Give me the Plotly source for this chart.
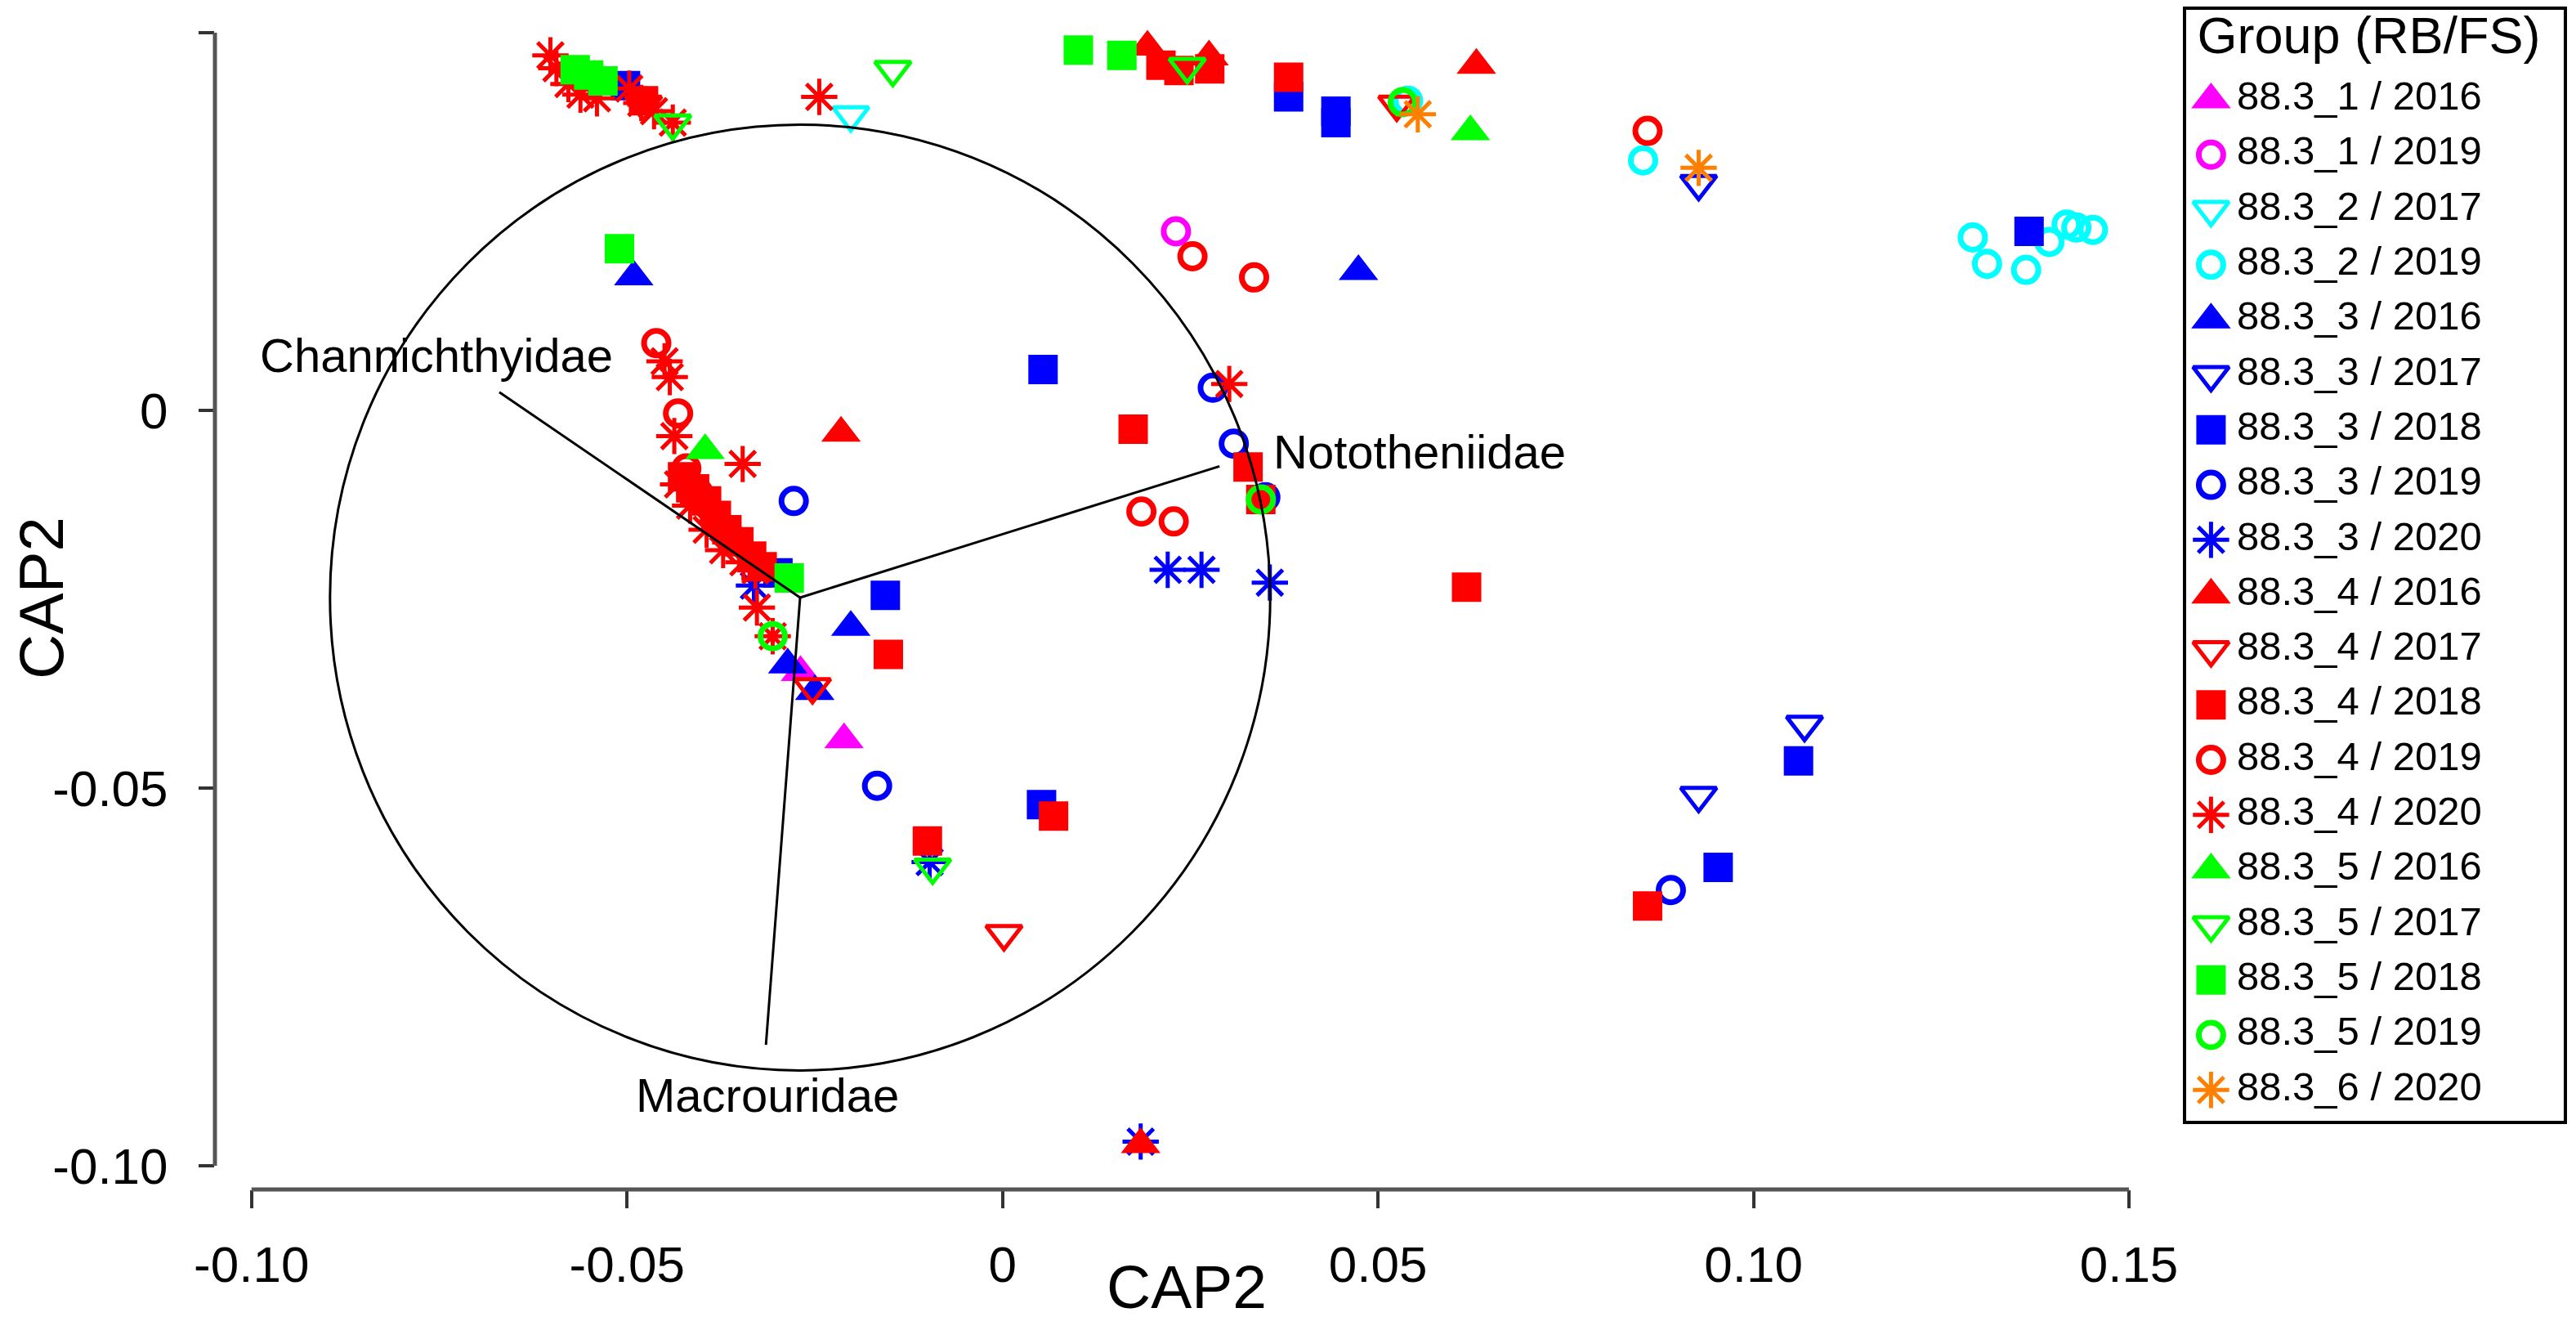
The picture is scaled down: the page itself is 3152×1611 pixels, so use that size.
import plotly.graph_objects as go

# ---------------- data ----------------
GROUPS = ["88.3_1 / 2016", "88.3_1 / 2019", "88.3_2 / 2017", "88.3_2 / 2019",
          "88.3_3 / 2016", "88.3_3 / 2017", "88.3_3 / 2018", "88.3_3 / 2019",
          "88.3_3 / 2020", "88.3_4 / 2016", "88.3_4 / 2017", "88.3_4 / 2018",
          "88.3_4 / 2019", "88.3_4 / 2020", "88.3_5 / 2016", "88.3_5 / 2017",
          "88.3_5 / 2018", "88.3_5 / 2019", "88.3_6 / 2020"]

x_1_2016 = [-0.0269, -0.0211]
y_1_2016 = [-0.0347, -0.0436]
x_1_2019 = [0.0231]
y_1_2019 = [0.0237]
x_2_2017 = [-0.0202]
y_2_2017 = [0.0391]
x_2_2019 = [0.0540, 0.0853, 0.1292, 0.1311, 0.1363, 0.1394, 0.1417, 0.1430, 0.1452]
y_2_2019 = [0.0410, 0.0331, 0.0229, 0.0194, 0.0186, 0.0223, 0.0246, 0.0242, 0.0239]
x_3_2016 = [-0.0491, 0.0474, -0.0202, -0.0286, -0.0250]
y_3_2016 = [0.0177, 0.0184, -0.0287, -0.0337, -0.0372]
x_3_2017 = [0.0927, 0.0927, 0.1068]
y_3_2017 = [0.0300, -0.0510, -0.0416]
x_3_2018 = [-0.0502, 0.0381, 0.0444, 0.0444, 0.0054, -0.0299, -0.0156, 0.0052, 0.1367, 0.0953, 0.1060]
y_3_2018 = [0.0430, 0.0415, 0.0396, 0.0381, 0.0054, -0.0215, -0.0245, -0.0522, 0.0237, -0.0605, -0.0464]
x_3_2019 = [0.0280, 0.0308, -0.0278, -0.0167, 0.0890, 0.0350]
y_3_2019 = [0.0030, -0.0044, -0.0120, -0.0497, -0.0635, -0.0115]
x_3_2020 = [-0.0331, 0.0220, 0.0265, 0.0356, -0.0097, 0.0184]
y_3_2020 = [-0.0232, -0.0211, -0.0211, -0.0228, -0.0598, -0.0968]
x_4_2016 = [0.0193, 0.0275, 0.0631, -0.0215, 0.0184]
y_4_2016 = [0.0481, 0.0468, 0.0457, -0.0030, -0.0972]
x_4_2017 = [-0.0478, 0.0525, -0.0253, 0.0002]
y_4_2017 = [0.0405, 0.0405, -0.0366, -0.0693]
x_4_2018 = [0.0211, 0.0235, 0.0276, 0.0381, -0.0478, 0.0174, 0.0327, 0.0344, -0.0152,
            0.0068, -0.0100, 0.0859, 0.0618, -0.0426, -0.0410, -0.0394, -0.0381,
            -0.0367, -0.0351, -0.0334, -0.0320]
y_4_2018 = [0.0457, 0.0450, 0.0452, 0.0441, 0.0410, -0.0025, -0.0075, -0.0118, -0.0323,
            -0.0537, -0.0570, -0.0656, -0.0234, -0.0088, -0.0104, -0.0120, -0.0139,
            -0.0158, -0.0174, -0.0193, -0.0207]
x_4_2019 = [0.0253, 0.0335, 0.0185, 0.0228, 0.0859, -0.0461, -0.0432, -0.0421, -0.0405,
            -0.0383, -0.0361]
y_4_2019 = [0.0204, 0.0176, -0.0134, -0.0147, 0.0370, 0.0089, -0.0004, -0.0077, -0.0109,
            -0.0145, -0.0169]
x_4_2020 = [-0.0602, -0.0594, -0.0578, -0.0562, -0.0540, -0.0497, -0.0481, -0.0464, -0.0439,
            -0.0244, 0.0302, -0.0443, -0.0450, -0.0437, -0.0346, -0.0327, -0.0306,
            -0.0432, -0.0416, -0.0394, -0.0372, -0.0345, -0.0329]
y_4_2020 = [0.0470, 0.0453, 0.0432, 0.0418, 0.0413, 0.0426, 0.0407, 0.0396, 0.0381,
            0.0415, 0.0035, 0.0044, 0.0065, -0.0034, -0.0071, -0.0261, -0.0299,
            -0.0098, -0.0126, -0.0158, -0.0185, -0.0201, -0.0212]
x_5_2016 = [-0.0396, 0.0623]
y_5_2016 = [-0.0053, 0.0369]
x_5_2017 = [-0.0439, -0.0146, 0.0246, -0.0093]
y_5_2017 = [0.0380, 0.0451, 0.0455, -0.0605]
x_5_2018 = [-0.0569, -0.0551, -0.0532, -0.0510, -0.0284, 0.0101, 0.0159]
y_5_2018 = [0.0451, 0.0444, 0.0436, 0.0214, -0.0222, 0.0477, 0.0470]
x_5_2019 = [0.0533, 0.0344, -0.0306]
y_5_2019 = [0.0408, -0.0118, -0.0299]
x_6_2020 = [0.0553, 0.0927]
y_6_2020 = [0.0392, 0.0321]

GROUP_X = [x_1_2016, x_1_2019, x_2_2017, x_2_2019, x_3_2016, x_3_2017, x_3_2018, x_3_2019,
           x_3_2020, x_4_2016, x_4_2017, x_4_2018, x_4_2019, x_4_2020, x_5_2016, x_5_2017,
           x_5_2018, x_5_2019, x_6_2020]
GROUP_Y = [y_1_2016, y_1_2019, y_2_2017, y_2_2019, y_3_2016, y_3_2017, y_3_2018, y_3_2019,
           y_3_2020, y_4_2016, y_4_2017, y_4_2018, y_4_2019, y_4_2020, y_5_2016, y_5_2017,
           y_5_2018, y_5_2019, y_6_2020]

# biplot vectors (correlation circle)
VEC_NAMES = ["Channichthyidae", "Nototheniidae", "Macrouridae"]
VEC_ORIGIN_X = -0.02695
VEC_ORIGIN_Y = -0.02478
VEC_END_X = [-0.0670, 0.0289, -0.0315]
VEC_END_Y = [0.0024, -0.0074, -0.0840]
VEC_LABEL_X = [-0.0754, 0.0358, -0.0313]
VEC_LABEL_Y = [0.0073, -0.0055, -0.0906]
CIRCLE_R = 0.0626

X_TICKS = [-0.10, -0.05, 0, 0.05, 0.10, 0.15]
X_TICK_TEXT = ["-0.10", "-0.05", "0", "0.05", "0.10", "0.15"]
Y_TICKS = [0.05, 0, -0.05, -0.10]
Y_TICK_TEXT = ["0.05", "0", "-0.05", "-0.10"]
LEGEND_TITLE = "Group (RB/FS)"
AXIS_TITLE = "CAP2"

# ---------------- styles ----------------
COLORS = ["#FF00FF", "#FF00FF", "#00FFFF", "#00FFFF", "#0000FF", "#0000FF", "#0000FF",
          "#0000FF", "#0000FF", "#FF0000", "#FF0000", "#FF0000", "#FF0000", "#FF0000",
          "#00FF00", "#00FF00", "#00FF00", "#00FF00", "#FF8000"]
SYMBOLS = ["triangle-up", "circle-open", "triangle-down-open", "circle-open",
           "triangle-up", "triangle-down-open", "square", "circle-open", "asterisk-open",
           "triangle-up", "triangle-down-open", "square", "circle-open", "asterisk-open",
           "triangle-up", "triangle-down-open", "square", "circle-open", "asterisk-open"]
SYM_SIZE = {"triangle-up": 42, "circle-open": 30, "triangle-down-open": 38,
            "square": 36, "asterisk-open": 37}
SYM_LW = {"triangle-up": 0, "circle-open": 7, "triangle-down-open": 5,
          "square": 0, "asterisk-open": 5}

FONT = "Liberation Sans, Arial, Helvetica, sans-serif"

fig = go.Figure()

for name, xs, ys, col, sym in zip(GROUPS, GROUP_X, GROUP_Y, COLORS, SYMBOLS):
    fig.add_trace(go.Scatter(
        x=xs, y=ys, mode="markers", name=name, showlegend=False, cliponaxis=False,
        marker=dict(symbol=sym, color=col, size=SYM_SIZE[sym],
                    line=dict(width=SYM_LW[sym], color=col)),
        xaxis="x", yaxis="y"))

# vectors on top of the points
vx, vy = [], []
for ex, ey in zip(VEC_END_X, VEC_END_Y):
    vx += [VEC_ORIGIN_X, ex, None]
    vy += [VEC_ORIGIN_Y, ey, None]
fig.add_trace(go.Scatter(x=vx, y=vy, mode="lines", showlegend=False, cliponaxis=False,
                         line=dict(color="black", width=3), hoverinfo="skip",
                         xaxis="x", yaxis="y"))

# ---------------- legend drawn in its own small axes ----------------
LEG_MARK_X = 0.0667
LEG_TEXT_X = 0.135
for i, (name, col, sym) in enumerate(zip(GROUPS, COLORS, SYMBOLS)):
    fig.add_trace(go.Scatter(
        x=[LEG_MARK_X], y=[i + 1], mode="markers", showlegend=False, cliponaxis=False,
        marker=dict(symbol=sym, color=col, size=SYM_SIZE[sym],
                    line=dict(width=SYM_LW[sym], color=col)),
        xaxis="x2", yaxis="y2", hoverinfo="skip"))
fig.add_trace(go.Scatter(
    x=[LEG_TEXT_X] * len(GROUPS), y=list(range(1, len(GROUPS) + 1)), mode="text",
    text=GROUPS, textposition="middle right", showlegend=False, cliponaxis=False,
    textfont=dict(size=49, color="black", family=FONT), xaxis="x2", yaxis="y2",
    hoverinfo="skip"))
fig.add_trace(go.Scatter(
    x=[0.03], y=[-0.08], mode="text", text=[LEGEND_TITLE], textposition="middle right",
    showlegend=False, cliponaxis=False,
    textfont=dict(size=63, color="black", family=FONT), xaxis="x2", yaxis="y2",
    hoverinfo="skip"))

# ---------------- decorations ----------------
shapes = [
    dict(type="circle", xref="x", yref="y",
         x0=VEC_ORIGIN_X - CIRCLE_R, x1=VEC_ORIGIN_X + CIRCLE_R,
         y0=VEC_ORIGIN_Y - CIRCLE_R, y1=VEC_ORIGIN_Y + CIRCLE_R,
         line=dict(color="black", width=3)),
    dict(type="line", xref="x", yref="paper", x0=X_TICKS[0], x1=X_TICKS[-1], y0=0, y1=0,
         line=dict(color="#555555", width=5)),
    dict(type="line", xref="paper", yref="y", x0=0, x1=0, y0=Y_TICKS[-1], y1=Y_TICKS[0],
         line=dict(color="#555555", width=5)),
]

annotations = []
for name, lx, ly, anc in zip(VEC_NAMES, VEC_LABEL_X, VEC_LABEL_Y, ["center", "left", "center"]):
    annotations.append(dict(x=lx, y=ly, xref="x", yref="y", text=name, showarrow=False,
                            xanchor=anc, yanchor="middle",
                            font=dict(size=58, color="black", family=FONT)))
# x-axis title (kept inside the picture)
X_DOMAIN = [0, 0.82768]
annotations.append(dict(x=(X_DOMAIN[0] + X_DOMAIN[1]) / 2, y=-0.1125, xref="paper",
                        yref="paper", text=AXIS_TITLE, showarrow=False, xanchor="center",
                        yanchor="bottom", font=dict(size=75, color="black", family=FONT)))

axis_common = dict(showgrid=False, zeroline=False, showline=False, ticks="outside",
                   tickwidth=4, tickcolor="#333333",
                   tickfont=dict(size=62, color="black", family=FONT))

fig.update_layout(
    width=3152, height=1611,
    margin=dict(l=255, r=7, t=0, b=164),
    paper_bgcolor="white", plot_bgcolor="white",
    font=dict(family=FONT, color="black"),
    showlegend=False,
    shapes=shapes, annotations=annotations,
    xaxis=dict(domain=X_DOMAIN, range=[-0.10487, 0.1540], tickmode="array",
               tickvals=X_TICKS, ticktext=X_TICK_TEXT, ticklen=22,
               ticklabelstandoff=16,
               **axis_common),
    yaxis=dict(domain=[0, 1], range=[-0.10314, 0.05346], tickmode="array",
               tickvals=Y_TICKS, ticktext=Y_TICK_TEXT, ticklen=19,
               ticklabelstandoff=25,
               title=dict(text=AXIS_TITLE, font=dict(size=76, color="black", family=FONT),
                          standoff=0),
               **axis_common),
    xaxis2=dict(domain=[0.8391, 1.0], range=[0, 1], anchor="y2", showgrid=False,
                zeroline=False, showticklabels=False, ticks="", showline=True,
                mirror=True, linecolor="black", linewidth=4),
    yaxis2=dict(domain=[0.05805, 0.99724], range=[19.56, -0.634], anchor="x2",
                showgrid=False, zeroline=False, showticklabels=False, ticks="",
                showline=True, mirror=True, linecolor="black", linewidth=4),
)

fig.write_html("out.html")
